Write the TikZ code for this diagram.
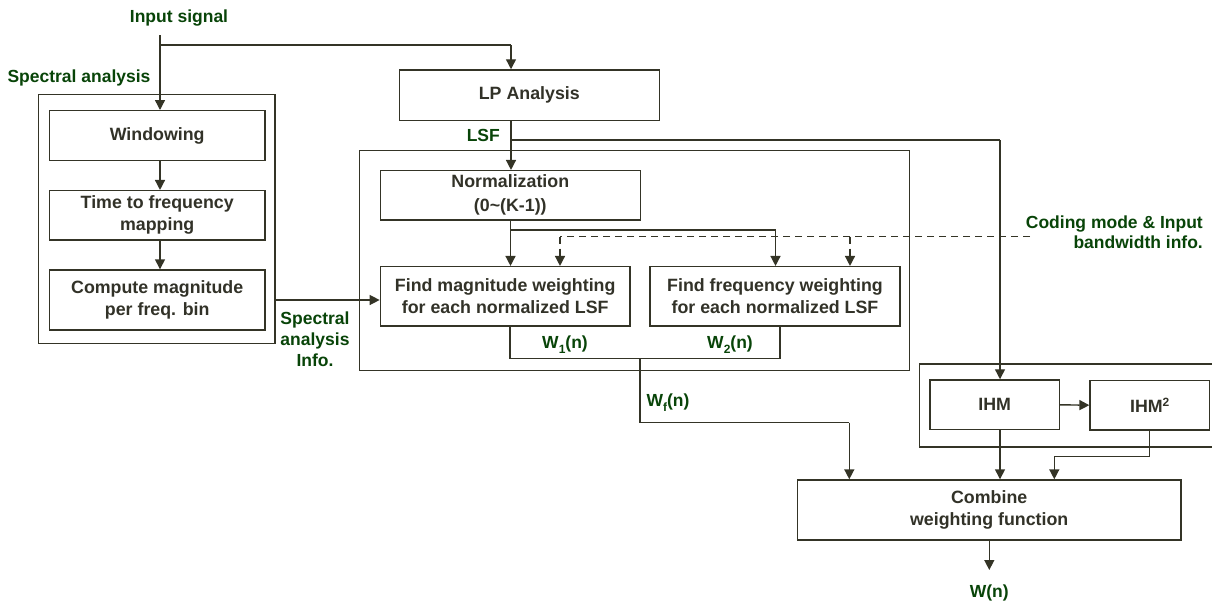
\documentclass[tikz,border=0pt]{standalone}
\usepackage{fontspec}
\setmainfont{Liberation Sans}
\usetikzlibrary{arrows.meta}
\definecolor{linecol}{RGB}{52,52,38}
\definecolor{txtcol}{RGB}{50,50,40}
\definecolor{lblgreen}{RGB}{8,68,8}
\newcommand{\sbs}[1]{\raisebox{-0.28em}{\fontsize{12}{12}\selectfont #1}}
\newcommand{\sps}[1]{\raisebox{0.35em}{\fontsize{12}{12}\selectfont #1}}
\tikzset{
  box/.style={draw=linecol, line width=1.4pt, fill=white, inner sep=0pt,
    align=center, text=txtcol, font=\fontsize{17.8}{22}\selectfont\bfseries},
  container/.style={draw=linecol, line width=1.6pt},
  lbl/.style={text=lblgreen, inner sep=0pt, font=\fontsize{17.5}{21}\selectfont\bfseries},
  conn/.style={draw=linecol, line width=1.4pt},
  arr/.style={conn, -{Triangle[length=10pt,width=10pt]}},
  dashconn/.style={conn, dash pattern=on 7pt off 5pt},
  dasharr/.style={dashconn, -{Triangle[length=10pt,width=10pt]}}
}
\begin{document}
\begin{tikzpicture}[x=1pt,y=-1pt]
\useasboundingbox (0,0) rectangle (1212,605);

% containers
\draw[container] (38.3,94.3) rectangle (275,343.3);
\draw[container] (359.3,150.5) rectangle (909.5,370.5);
\draw[container] (1212,364) -- (919.3,364) -- (919.3,446.7) -- (1212,446.7);
\coordinate (leftCE) at (275,300);

% boxes
\node[box, minimum width=215.7, minimum height=50] (win) at (157.2,135.7) {Windowing};
\node[box, minimum width=215.7, minimum height=49.3] (t2f) at (157.2,215.3) {Time to frequency\\mapping};
\node[box, minimum width=215.7, minimum height=60] (comp) at (157.2,300) {Compute magnitude\\per freq. bin};
\node[box, minimum width=260, minimum height=50.7] (lp) at (529.3,95.3) {LP Analysis};
\node[box, minimum width=260, minimum height=49.3, font=\fontsize{17.8}{24}\selectfont\bfseries] (norm) at (510.3,195.3) {Normalization\\(0\textasciitilde(K-1))};
\node[box, minimum width=249.7, minimum height=59.3] (mag) at (505.2,296.3) {Find magnitude weighting\\for each normalized LSF};
\node[box, minimum width=250, minimum height=59.3] (freq) at (775,296.3) {Find frequency weighting\\for each normalized LSF};
\node[box, minimum width=129.3, minimum height=49.7] (ihm) at (994.7,404.8) {IHM};
\node[box, minimum width=119.3, minimum height=49.5] (ihm2) at (1149.7,405.2) {IHM\sps{2}};
\node[box, minimum width=383.7, minimum height=60] (comb) at (989.2,510) {Combine\\weighting function};

% labels
\node[lbl] (inlbl) at (179,18.3) {Input signal};
\node[lbl] (salbl) at (79,78) {Spectral analysis};
\node[lbl, anchor=east] (lsflbl) at (500,135) {LSF};
\node[lbl, align=center] (sinfo) at (315,339.3) {Spectral\\analysis\\Info.};
\node[lbl] (w1lbl) at (565,345) {W\sbs{1}(n)};
\node[lbl] (w2lbl) at (730,345) {W\sbs{2}(n)};
\node[lbl] (wflbl) at (668,403) {W\sbs{f}(n)};
\node[lbl, align=right, anchor=east, font=\fontsize{17.5}{20}\selectfont\bfseries] (cmlbl) at (1203,232.7) {Coding mode \& Input\\bandwidth info.};
\node[lbl] (wnlbl) at (989.3,593) {W(n)};

% coordinates
\coordinate (inTop) at (160,35);
\coordinate (inSplit) at (160,45);
\coordinate (lpIn) at (511,45);
\coordinate (lsf) at (511,140);
\coordinate (lsfR) at (1000,140);
\coordinate (nSplit) at (510.5,230);
\coordinate (nR) at (775.5,230);
\coordinate (cmEnd) at (1030,236.7);
\coordinate (dA) at (560,236.7);
\coordinate (dB) at (850,236.7);
\coordinate (w1B) at (510,358.3);
\coordinate (w2B) at (780,358.3);
\coordinate (wfTop) at (640,358.3);
\coordinate (wfTurn) at (640,422.7);
\coordinate (wfR) at (849.3,422.7);
\coordinate (i2Turn) at (1149.3,456.7);
\coordinate (i2L) at (1054.3,456.7);
\coordinate (wOut) at (989.3,570);

% connectors
\draw[arr] (inTop) -- (inTop |- win.north);
\draw[conn] (inSplit) -- (lpIn);
\draw[arr] (lpIn) -- (lp.north -| lpIn);
\draw[arr] (win.south -| inTop) -- (t2f.north -| inTop);
\draw[arr] (t2f.south -| inTop) -- (comp.north -| inTop);
\draw[arr] (leftCE) -- (mag.west |- leftCE);
\draw[conn] (lp.south -| lsf) -- (lsf);
\draw[arr] (lsf) -- (norm.north -| lsf);
\draw[conn] (lsf) -- (lsfR);
\draw[arr] (lsfR) -- (ihm.north -| lsfR);
\draw[conn] (norm.south -| nSplit) -- (nSplit) -- (nR);
\draw[arr] (nSplit) -- (mag.north -| nSplit);
\draw[arr] (nR) -- (freq.north -| nR);
\draw[dashconn] (cmEnd) -- (dA);
\draw[dasharr] (dA) -- (mag.north -| dA);
\draw[dasharr] (dB) -- (freq.north -| dB);
\draw[conn] (mag.south -| w1B) -- (w1B) -- (w2B) -- (freq.south -| w2B);
\draw[conn] (wfTop) -- (wfTurn) -- (wfR);
\draw[arr] (wfR) -- (comb.north -| wfR);
\draw[arr] (ihm.east) -- (ihm2.west);
\draw[arr] (ihm.south -| lsfR) -- (comb.north -| lsfR);
\draw[conn] (ihm2.south -| i2Turn) -- (i2Turn) -- (i2L);
\draw[arr] (i2L) -- (comb.north -| i2L);
\draw[arr] (comb.south -| wOut) -- (wOut);
\end{tikzpicture}
\end{document}
